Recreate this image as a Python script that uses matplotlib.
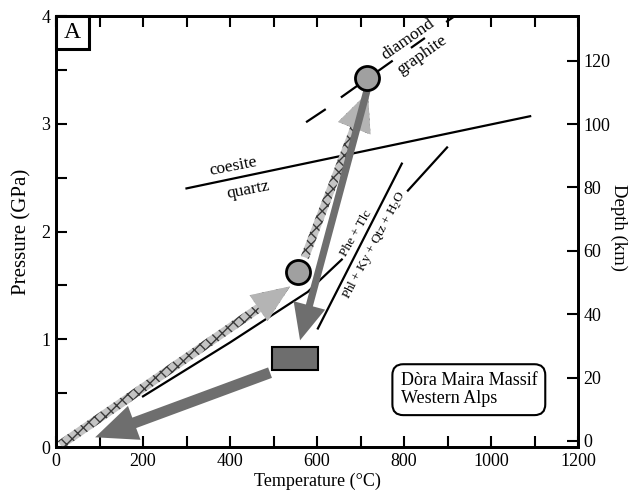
import numpy as np
import matplotlib.pyplot as plt
from matplotlib.patches import Rectangle

plt.rcParams['font.family'] = ['Liberation Serif', 'DejaVu Serif']
plt.rcParams['mathtext.fontset'] = 'custom'
plt.rcParams['mathtext.rm'] = 'Liberation Serif'
plt.rcParams['hatch.linewidth'] = 1.0

# phase boundaries (T in degC, P in GPa)
coe_T = [300, 1090]
coe_P = [2.40, 3.07]

dia_T = [[577, 618], [657, 772], [818, 846], [899, 917]]
dia_P = [[3.02, 3.13], [3.25, 3.58], [3.71, 3.79], [3.95, 4.00]]

phe_T = [200, 400, 579, 607, 657]
phe_P = [0.47, 0.97, 1.44, 1.55, 1.74]

phl_T = [602, 795]
phl_P = [1.10, 2.63]
phl2_T = [809, 899]
phl2_P = [2.38, 2.78]

# P-T path of the Dora Maira rocks
circ_T = [556, 715]
circ_P = [1.62, 3.42]

prog_from = [(10, 0.02), (572, 1.76)]
prog_to = [(538, 1.49), (717, 3.29)]
retro_from = [(715, 3.31), (492, 0.69)]
retro_to = [(561, 0.99), (90, 0.09)]

rect_T = [497, 602]
rect_P = [0.71, 0.93]

depth_ticks = [0, 20, 40, 60, 80, 100, 120]

fig = plt.figure(figsize=(6.32, 4.91), dpi=100)
ax = fig.add_axes([56 / 632, 44 / 491, 522 / 632, 431 / 491])

# reaction lines
ax.plot(coe_T, coe_P, color='black', lw=1.6)
for t, p in zip(dia_T, dia_P):
    ax.plot(t, p, color='black', lw=1.6)
ax.plot(phe_T, phe_P, color='black', lw=1.6)
ax.plot(phl_T, phl_P, color='black', lw=1.6)
ax.plot(phl2_T, phl2_P, color='black', lw=1.6)


def arrow(start, tip, tail, hw, hl, face, hatch=None, z=3):
    style = 'simple,tail_width=%g,head_width=%g,head_length=%g' % (tail, hw, hl)
    props = dict(arrowstyle=style, mutation_scale=1, shrinkA=0, shrinkB=0,
                 facecolor=face, edgecolor='#3a3a3a', linewidth=0)
    if hatch:
        props['hatch'] = hatch
    ax.annotate('', xy=tip, xytext=start, arrowprops=props, zorder=z)


# prograde path (light, with crosses), heads drawn again without hatch
prog_sizes = [(6.5, 22.5, 27.5), (6.0, 25.0, 27.5)]
for s, e, (tw, hw, hl) in zip(prog_from, prog_to, prog_sizes):
    arrow(s, e, tw, hw, hl, '#c4c4c4', hatch='xxx', z=3)
    arrow(s, e, 0.01, hw, hl, '#b4b4b4', z=3.1)

# retrograde path (dark)
retro_sizes = [(5.2, 23.5, 26.0), (8.0, 26.0, 30.0)]
for s, e, (tw, hw, hl) in zip(retro_from, retro_to, retro_sizes):
    arrow(s, e, tw, hw, hl, '#6e6e6e', z=4)

ax.add_patch(Rectangle((rect_T[0], rect_P[0]), rect_T[1] - rect_T[0],
                       rect_P[1] - rect_P[0], facecolor='#6e6e6e',
                       edgecolor='black', lw=1.5, zorder=5))
ax.scatter(circ_T, circ_P, s=300, c='#a0a0a0', edgecolors='black',
           linewidths=2, zorder=6)

# labels on the reaction lines
ax.text(407, 2.60, 'coesite', fontsize=12.5, rotation=11, ha='center', va='center')
ax.text(441, 2.385, 'quartz', fontsize=12.5, rotation=11, ha='center', va='center')
ax.text(809, 3.78, 'diamond', fontsize=12.5, rotation=35, ha='center', va='center',
        rotation_mode='anchor')
ax.text(841, 3.64, 'graphite', fontsize=12.5, rotation=35, ha='center', va='center',
        rotation_mode='anchor')
ax.text(690, 1.98, 'Phe + Tlc', fontsize=9.5, rotation=60, ha='center', va='center',
        rotation_mode='anchor')
ax.text(731, 1.875, 'Phl + Ky + Qtz + H$_2$O', fontsize=9.5, rotation=62,
        ha='center', va='center', rotation_mode='anchor')

ax.text(0.66, 0.133, 'Dòra Maira Massif\nWestern Alps', transform=ax.transAxes,
        fontsize=13, ha='left', va='center', linespacing=1.05, zorder=7,
        bbox=dict(boxstyle='round,pad=0.45,rounding_size=0.6', fc='white',
                  ec='black', lw=1.5))

# panel letter
ax.add_patch(Rectangle((0, 1 - 33 / 431), 33 / 522, 33 / 431, transform=ax.transAxes,
                       fc='white', ec='black', lw=2.2, zorder=8, clip_on=False))
ax.text(16.5 / 522, 1 - 16.5 / 431, 'A', transform=ax.transAxes, fontsize=17,
        ha='center', va='center', zorder=9)

ax.set_xlim(0, 1200)
ax.set_ylim(0, 4)
ax.set_xticks(np.arange(0, 1201, 200))
ax.set_xticks(np.arange(100, 1200, 200), minor=True)
ax.set_yticks([0, 1, 2, 3, 4])
ax.set_yticks([0.5, 1.5, 2.5, 3.5], minor=True)
ax.tick_params(which='both', direction='in', length=8, width=1.5, top=True,
               right=False, labelsize=13, pad=4)
for sp in ax.spines.values():
    sp.set_linewidth(2)
ax.set_xlabel('Temperature (°C)', fontsize=13, labelpad=2)
ax.set_ylabel('Pressure (GPa)', fontsize=15, labelpad=7)

ax2 = ax.twinx()
ax2.set_ylim(-1.9, 134.1)
ax2.set_yticks(depth_ticks)
ax2.tick_params(direction='in', length=8, width=1.5, labelsize=13, pad=4)
for sp in ax2.spines.values():
    sp.set_linewidth(2)
fig.text(619 / 632, 1 - 228 / 491, 'Depth (km)', fontsize=13.5, rotation=270,
         ha='center', va='center')

fig.savefig('out.png', dpi=100)
